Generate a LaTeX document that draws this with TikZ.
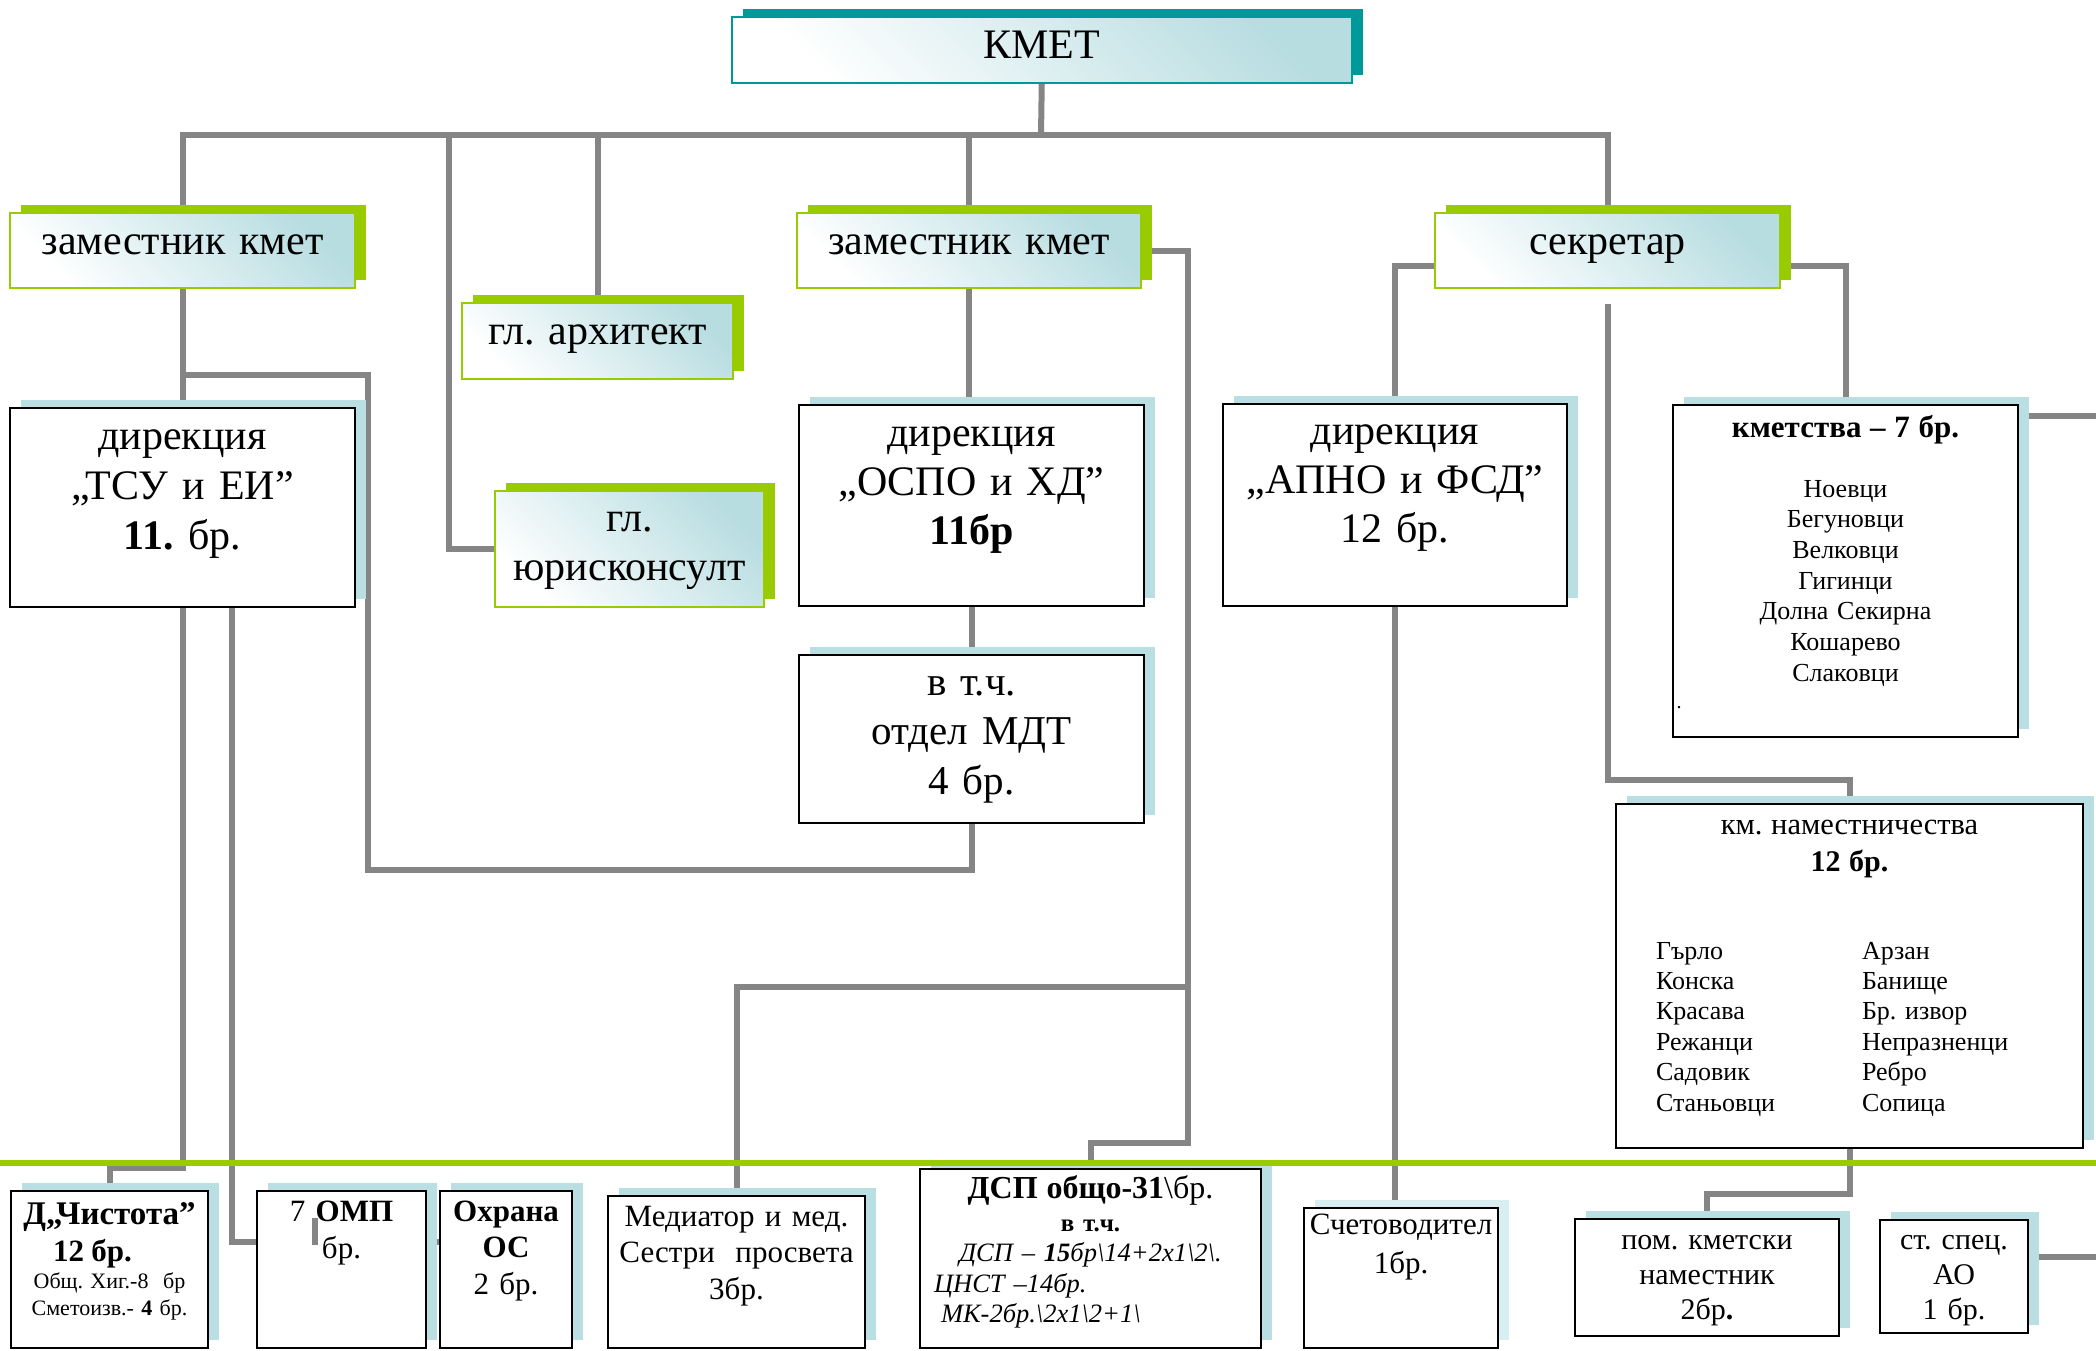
\documentclass[tikz,border=0pt]{standalone}
\usepackage{fontspec}
\setmainfont{Liberation Serif}
\usetikzlibrary{shadows, backgrounds, calc}

\definecolor{linegray}{HTML}{858585}
\definecolor{limegr}{HTML}{99CC00}
\definecolor{tealc}{HTML}{009999}
\definecolor{shadowblue}{HTML}{B9DFE3}
\definecolor{paleblue}{HTML}{D8EEF0}
\definecolor{gradblue}{HTML}{B8DDE1}

\newcommand{\fsz}[2]{\fontsize{#1}{#2}\selectfont}

\begin{document}
\frenchspacing
\begin{tikzpicture}[
        x=1pt, y=-1pt,
        conn/.style={draw=linegray, line width=6pt},
        dims/.style n args={3}{text width=#1pt, text height=#2pt, text depth=#3pt},
        mayorbox/.style={rectangle, draw=tealc, line width=1.5pt, top color=gradblue, bottom color=white, shading angle=-45, general shadow={fill=tealc, shadow xshift=11pt, shadow yshift=8pt}, inner sep=0pt, anchor=north west, align=center, font=\fsz{42}{50}},
        headbox/.style={rectangle, draw=limegr, line width=2pt, top color=gradblue, bottom color=white, shading angle=-45, general shadow={fill=limegr, shadow xshift=11pt, shadow yshift=8pt}, inner sep=0pt, anchor=north west, align=center, font=\fsz{42}{49}},
        unitbox/.style={rectangle, draw=black, line width=2pt, fill=white, general shadow={fill=#1, shadow xshift=11pt, shadow yshift=8pt}, inner sep=0pt, anchor=north west, align=center},
        unitbox/.default=shadowblue,
        lowbox/.style={unitbox, font=\fsz{31}{36}}
    ]
    \useasboundingbox (0,0) rectangle (2096,1350);

    % 1. Top level: mayor, deputies, secretary, chief experts
    \node[mayorbox, dims={620}{42}{24}] (kmet) at (731,16) {КМЕТ};
    \node[headbox, dims={345}{41}{34}] (zam1) at (9,212) {заместник кмет};
    \node[headbox, dims={271}{41}{35}] (arch) at (461,302) {гл. архитект};
    \node[headbox, dims={269}{40}{76}] (legal) at (494,490) {гл.\\юрисконсулт};
    \node[headbox, dims={344}{41}{34}] (zam2) at (796,212) {заместник кмет};
    \node[headbox, dims={345}{41}{34}] (secr) at (1434,212) {секретар};

    % 2. Directorates
    \node[unitbox, font=\fsz{42}{50}, dims={345}{41}{158}] (tsu) at (9,407) {дирекция\\„ТСУ и ЕИ”\\\textbf{11.} бр.};
    \node[unitbox, font=\fsz{42}{49}, dims={345}{41}{160}] (ospo) at (798,404) {дирекция\\„ОСПО и ХД”\\\textbf{11бр}};
    \node[unitbox, font=\fsz{41}{49.5}, dims={345}{40}{128}] (mdt) at (798,654) {в т.ч.\\отдел МДТ\\4 бр.};
    \node[unitbox, font=\fsz{42}{49}, dims={344}{40}{162}] (apno) at (1222,403) {дирекция\\„АПНО и ФСД”\\12 бр.};

    % 3. Mayoralties and deputy mayoralties
    \node[unitbox, font=\fsz{26}{30.7}, dims={345}{32}{300}] (kmetstva) at (1672,404) {{\fsz{31}{30.7}\bfseries кметства – 7 бр.}\\[29.3pt]Ноевци\\Бегуновци\\Велковци\\Гигинци\\Долна Секирна\\Кошарево\\Слаковци};
    \node[anchor=base west, font=\fsz{20}{24}] (kmdot) at (1673,708) {.};
    \node[unitbox, font=\fsz{26}{30.4}, dims={467}{30}{314}] (namest) at (1615,803) {{\fsz{30.5}{30.4}км. наместничества}\\[6.6pt]{\fsz{30}{30.4}\bfseries 12 бр.}\\[57.6pt]%
        \makebox[\linewidth][l]{\hspace*{40pt}\begin{tabular}[t]{@{}p{206pt}@{}l@{}}
        Гърло & Арзан\\ Конска & Банище\\ Красава & Бр. извор\\ Режанци & Непразненци\\ Садовик & Ребро\\ Станьовци & Сопица
        \end{tabular}}};

    % 4. Bottom row
    \node[unitbox, font=\fsz{22}{27}, dims={197}{33}{124}] (chistota) at (10,1190) {{\fsz{33}{27}\bfseries Д„Чистота”}\\[7pt]{\fsz{31}{27}\bfseries 12 бр.}\rule{34pt}{0pt}\\[0pt]Общ. Хиг.-8~ бр\\Сметоизв.- \textbf{4} бр.};
    \node[lowbox, font=\fsz{31}{37}, dims={169}{30}{127}] (omp) at (256,1190) {7 \textbf{ОМП}\\бр.};
    \node[lowbox, font=\fsz{31}{36.5}, dims={132}{30}{127}] (ohrana) at (439,1190) {\textbf{Охрана}\\\textbf{ОС}\\2 бр.};
    \node[lowbox, font=\fsz{31}{36.5}, dims={257}{30}{122}] (mediator) at (607,1195) {Медиатор и мед.\\Сестри~ просвета\\3бр.};
    \node[unitbox, font=\fsz{26.5}{30.5}, dims={341}{29}{150}] (dsp) at (919,1168) {{\fsz{32}{30.5}\bfseries ДСП общо-31}{\fsz{32}{30.5}\textbackslash бр.}\\[2.5pt]{\fsz{25}{30.5}\bfseries в т.ч.}\\\textit{ДСП – \textbf{15}бр\textbackslash 14+2x1\textbackslash 2\textbackslash .}\\\makebox[\linewidth][l]{\hspace*{14pt}\textit{ЦНСТ –14бр.}}\\\makebox[\linewidth][l]{\hspace*{21pt}\textit{МК-2бр.\textbackslash 2x1\textbackslash 2+1\textbackslash}}};
    \node[unitbox=paleblue, font=\fsz{31}{39}, dims={194}{26}{114}] (schet) at (1303,1207) {Счетоводител\\1бр.};
    \node[lowbox, font=\fsz{30}{35}, dims={264}{30}{87}] (pom) at (1574,1218) {пом. кметски\\наместник\\2бр\textbf{.}};
    \node[lowbox, font=\fsz{30}{35}, dims={148}{29}{84}] (stspec) at (1879,1219) {ст. спец.\\АО\\1 бр.};

    % 5. Connectors (behind the boxes)
    \begin{scope}[on background layer]
        \coordinate (busmid) at (1041,135);
        \coordinate (loopcorner) at (368,870);
        \coordinate (dspcorner) at (1188,1143);
        \coordinate (medfork) at (1188,987);
        \coordinate (rimA) at (2096,416);
        \coordinate (rimB) at (2096,1257);
        \draw[conn] (kmet.south) -- (busmid);
        \draw[conn] (zam1.north) |- (busmid) -| (secr.north);
        \draw[conn] (arch.north) -- (arch.north |- busmid);
        \draw[conn] (zam2.north) -- (zam2.north |- busmid);
        \draw[conn] (legal.west) -| ($(legal.west |- busmid)+(-45,0)$);
        \draw[conn] (zam1.south) -- (tsu.north);
        \draw[conn] ($(tsu.north)+(0,-32)$) -| (loopcorner) -| (mdt.south);
        \draw[conn] (zam2.south) -- (zam2.south |- ospo.north);
        \draw[conn] (ospo.south) -- (mdt.north);
        \draw[conn] (zam2.east) -| (dspcorner) -| (dsp.north);
        \draw[conn] (medfork) -| (mediator.north);
        \draw[conn] ($(secr.west)+(0,15.5)$) -| (apno.north);
        \draw[conn] ($(secr.east)+(0,15)$) -| (kmetstva.north);
        \draw[conn] ($(secr.south)+(0,15)$) |- ($(namest.north)+(0,-23)$) -- (namest.north);
        \draw[conn] ($(kmetstva.north east)+(0,12)$) -- (rimA);
        \draw[conn] (apno.south) -- (apno.south |- schet.north);
        \draw[conn] (namest.south) |- ($(pom.north)+(0,-24)$) -- (pom.north);
        \draw[conn] ($(stspec.north east)+(0,38)$) -- (rimB);
        \draw[conn] (tsu.south) |- ($(chistota.north)+(0,-22)$) -- (chistota.north);
        \draw[conn] ($(tsu.south)+(49,0)$) |- ($(ohrana.west)+(0,-27.5)$);
    \end{scope}

    % 6. Green separator and stray stub
    \coordinate (grL) at (0,1163);
    \coordinate (grR) at (2096,1163);
    \draw[draw=limegr, line width=6pt] (grL) -- (grR);
    \draw[conn] ($(omp.north west)+(59,28)$) -- ++(0,27);

\end{tikzpicture}
\end{document}
